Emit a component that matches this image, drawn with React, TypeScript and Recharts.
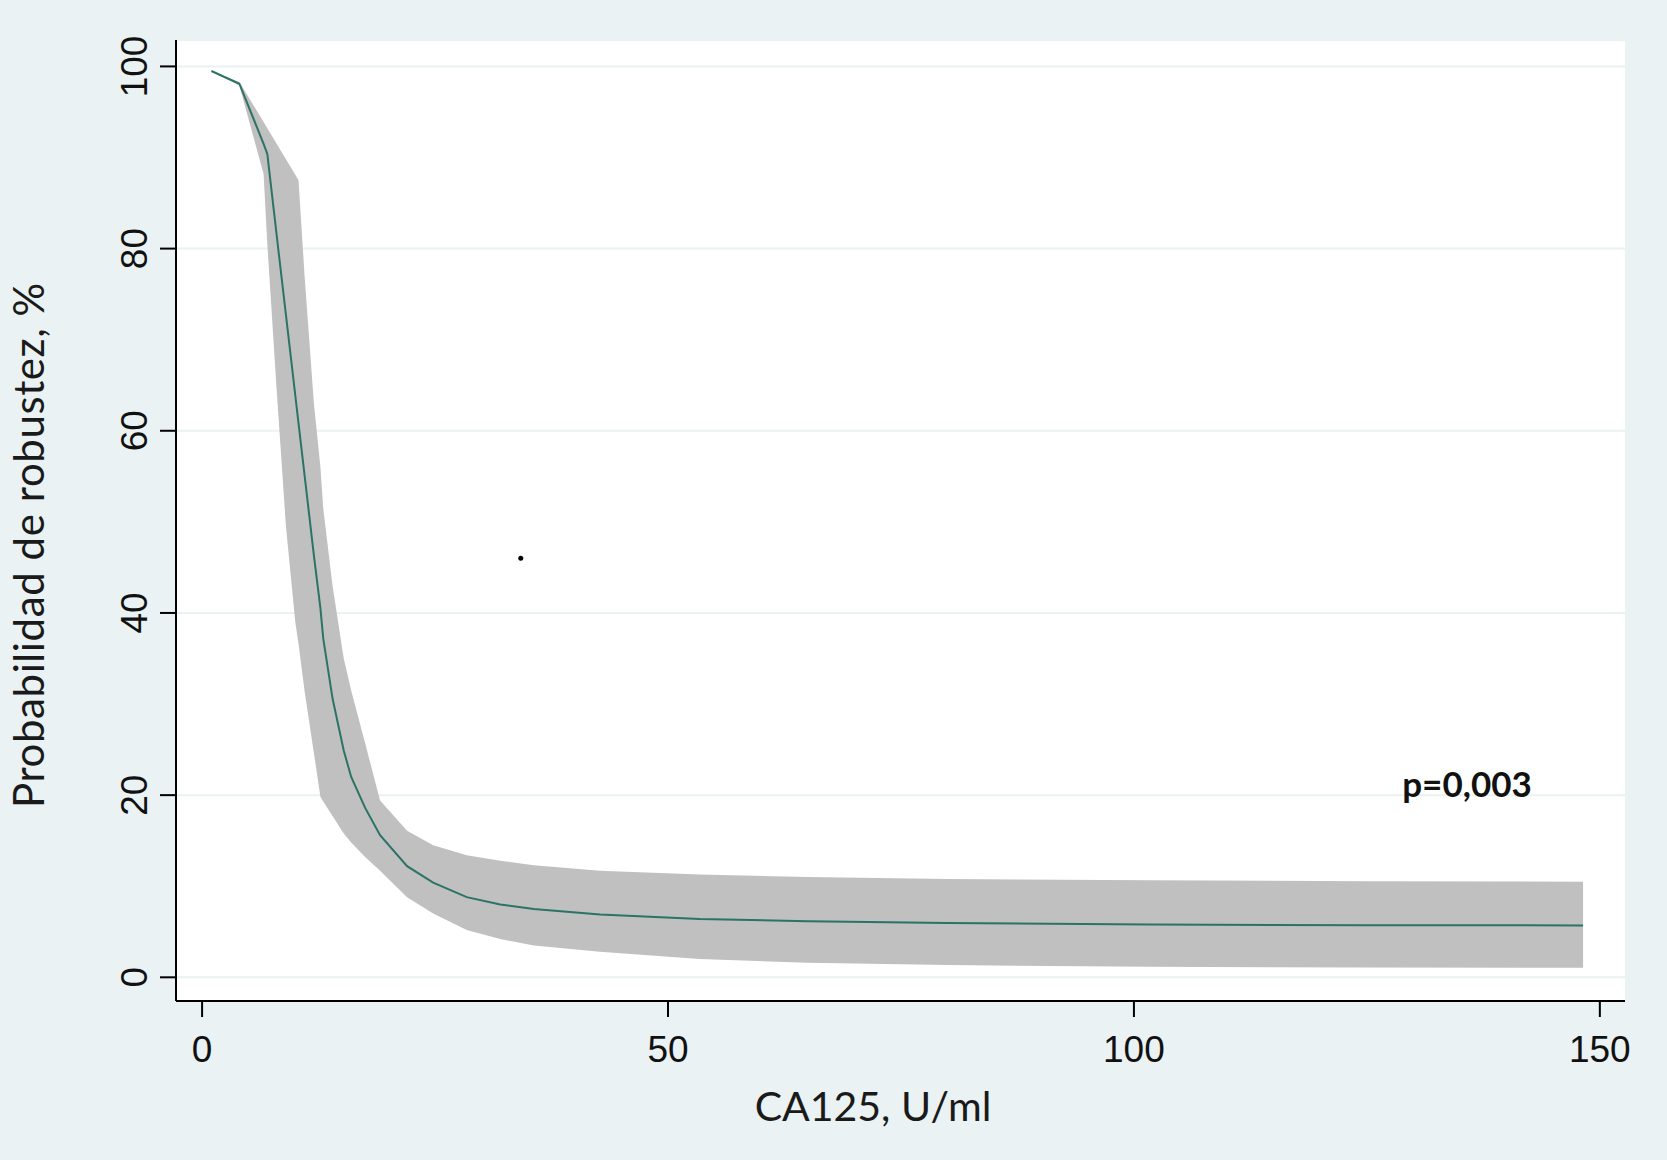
import React from 'react'
import {
  ComposedChart,
  Area,
  Line,
  XAxis,
  YAxis,
  CartesianGrid,
  ReferenceDot,
} from 'recharts'

// CA125 (U/ml) and predicted probability with 95% CI
const ca125 = [1, 4, 6.6, 7, 8, 9, 10, 10.35, 11, 12, 12.7, 13, 14, 15.2, 16, 17.5, 19.1, 22, 24.8, 28.4, 32, 35.6, 42.7, 53.4, 65, 80, 101.7, 125, 148.2]
const fitted = [99.5, 98.1, 91.5, 90.4, 81.5, 72.7, 63.9, 60.8, 55.1, 46.3, 40.5, 37.2, 30.6, 24.9, 22.0, 18.6, 15.6, 12.2, 10.4, 8.8, 8.0, 7.5, 6.9, 6.4, 6.15, 5.95, 5.8, 5.72, 5.7]
const lowerCI = [99.5, 97.9, 88.2, 80.5, 64.5, 49.5, 39.0, 36.6, 31.4, 24.6, 19.8, 19.3, 17.7, 15.8, 14.8, 13.2, 11.7, 8.8, 7.0, 5.2, 4.2, 3.5, 2.8, 2.0, 1.6, 1.35, 1.15, 1.08, 1.05]
const upperCI = [99.5, 98.3, 93.9, 93.2, 91.5, 89.8, 88.1, 87.5, 77.0, 63.0, 56.0, 51.5, 43.0, 35.0, 31.5, 25.7, 19.4, 16.1, 14.5, 13.4, 12.8, 12.3, 11.7, 11.3, 11.0, 10.8, 10.65, 10.55, 10.5]

const xTicks = [0, 50, 100, 150]
const yTicks = [0, 20, 40, 60, 80, 100]

// stray point in the original figure
const strayDot = { x: 34.2, y: 46 }

const BG = '#EAF2F3'
const BAND = '#C0C0C0'
const LINE = '#2A7366'

const data = ca125.map((x, i) => ({
  ca125: x,
  fit: fitted[i],
  ci: [lowerCI[i], upperCI[i]],
}))

const YTick = ({ x, y, payload }: any) => (
  <text
    x={x - 13}
    y={y}
    transform={`rotate(-90, ${x - 13}, ${y})`}
    textAnchor="middle"
    fontFamily="'Liberation Sans', Arial, sans-serif"
    fontSize={37}
    fill="#111"
  >
    {payload.value}
  </text>
)

const XTick = ({ x, y, payload }: any) => (
  <text
    x={x}
    y={y + 45}
    textAnchor="middle"
    fontFamily="'Liberation Sans', Arial, sans-serif"
    fontSize={37}
    fill="#111"
  >
    {payload.value}
  </text>
)

export default function App() {
  return (
    <div style={{ position: 'absolute', left: 0, top: 0, width: 1667, height: 1160, background: BG }}>
      <ComposedChart
        width={1667}
        height={1160}
        data={data}
        margin={{ top: 40, right: 42, left: 0, bottom: 0 }}
      >
        <CartesianGrid horizontal vertical={false} stroke={BG} strokeWidth={2} fill="#fff" />
        <XAxis
          dataKey="ca125"
          type="number"
          domain={[-2.8, 152.7]}
          ticks={xTicks}
          allowDataOverflow
          height={159}
          tickSize={16}
          tickMargin={0}
          tickLine={{ stroke: '#000', strokeWidth: 2 }}
          axisLine={{ stroke: '#000', strokeWidth: 2 }}
          tick={<XTick />}
        />
        <YAxis
          type="number"
          domain={[-2.6, 102.9]}
          ticks={yTicks}
          allowDataOverflow
          width={176}
          tickSize={16}
          tickMargin={0}
          tickLine={{ stroke: '#000', strokeWidth: 2 }}
          axisLine={{ stroke: '#000', strokeWidth: 2 }}
          tick={<YTick />}
        />
        <Area
          type="linear"
          dataKey="ci"
          stroke="none"
          fill={BAND}
          fillOpacity={1}
          isAnimationActive={false}
        />
        <Line
          type="linear"
          dataKey="fit"
          stroke={LINE}
          strokeWidth={2}
          dot={false}
          activeDot={false}
          isAnimationActive={false}
        />
        <ReferenceDot x={strayDot.x} y={strayDot.y} r={2.5} fill="#000" stroke="none" />
      </ComposedChart>

      {/* axis titles and annotation */}
      <div
        style={{
          position: 'absolute',
          left: 873,
          top: 1105,
          transform: 'translate(-50%, -50%)',
          fontFamily: 'Lato, sans-serif',
          fontSize: 41,
          color: '#1a1a1a',
          whiteSpace: 'nowrap',
        }}
      >
        CA125, U/ml
      </div>
      <div
        style={{
          position: 'absolute',
          left: 28,
          top: 545,
          transform: 'translate(-50%, -50%) rotate(-90deg)',
          fontFamily: 'Lato, sans-serif',
          fontSize: 42,
          letterSpacing: 0.6,
          color: '#1a1a1a',
          whiteSpace: 'nowrap',
        }}
      >
        Probabilidad de robustez, %
      </div>
      <div
        style={{
          position: 'absolute',
          left: 1467,
          top: 783,
          transform: 'translate(-50%, -50%)',
          fontFamily: 'Lato, sans-serif',
          fontWeight: 700,
          fontSize: 35,
          color: '#111',
          whiteSpace: 'nowrap',
        }}
      >
        p=0,003
      </div>
    </div>
  )
}
